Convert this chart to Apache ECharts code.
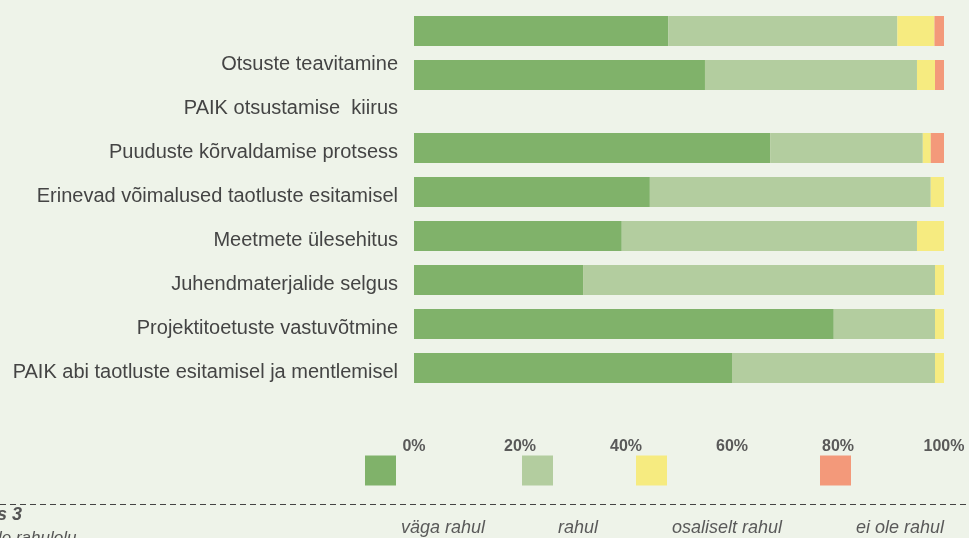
<!DOCTYPE html>
<html>
<head>
<meta charset="utf-8">
<script src="https://cdn.jsdelivr.net/npm/echarts@6.0.0/dist/echarts.min.js"></script>
<style>
  html, body { margin: 0; padding: 0; background: #EEF3E9; }
</style>
</head>
<body>

<div id="main" style="width: 969px;height:538px;"></div>
<script type="text/javascript">
    // kategooriad (sildid), ülevalt alla
    var categories = [
        'Otsuste teavitamine',
        'PAIK otsustamise  kiirus',
        'Puuduste kõrvaldamise protsess',
        'Erinevad võimalused taotluste esitamisel',
        'Meetmete ülesehitus',
        'Juhendmaterjalide selgus',
        'Projektitoetuste vastuvõtmine',
        'PAIK abi taotluste esitamisel ja mentlemisel'
    ];

    // hinnangud (%), esimesed 2 rida = ülemised ribad, mille sildid on pildilt ära lõigatud
    var vagaRahul = [48.0, 54.9, null, null, 67.2, 44.5, 39.2, 31.9, 79.2, 60.0];
    var rahul = [43.2, 40.0, null, null, 28.8, 53.0, 55.7, 66.4, 19.1, 38.3];
    var osaliseltRahul = [7.0, 3.4, null, null, 1.5, 2.5, 5.1, 1.7, 1.7, 1.7];
    var eiOleRahul = [1.8, 1.7, null, null, 2.5, 0, 0, 0, 0, 0];

    var levels = ['väga rahul', 'rahul', 'osaliselt rahul', 'ei ole rahul'];
    var colors = ['#80B26A', '#B3CD9F', '#F6EB80', '#F3997A'];
    var values = [vagaRahul, rahul, osaliseltRahul, eiOleRahul];
    var legendLeft = [365, 522, 636, 820];

    var font = "'Liberation Sans', Arial, sans-serif";
    var myChart = echarts.init(document.getElementById('main'));

    var series = [];
    values.forEach(function (arr, i) {
        // põhiosa
        series.push({
            name: levels[i], type: 'bar', stack: 'main',
            xAxisIndex: 0, yAxisIndex: 0,
            barWidth: 30, color: colors[i],
            data: arr.slice(2)
        });
        // kaks ülemist riba
        series.push({
            name: levels[i], type: 'bar', stack: 'top',
            xAxisIndex: 1, yAxisIndex: 1,
            barWidth: 30, color: colors[i],
            data: arr.slice(0, 2)
        });
    });

    // legendi tekst käib ruudu alla: kaks tühja rida ees
    // (legendi kast algab teksti ülaservast, seepärast top = 455 - 70)
    var legends = levels.map(function (name, i) {
        return {
            data: [name],
            left: legendLeft[i],
            top: 385,
            padding: 0,
            itemWidth: 31,
            itemHeight: 30,
            icon: 'rect',
            selectedMode: false,
            formatter: function (n) { return '\n\n' + n; },
            textStyle: {
                fontFamily: font, fontStyle: 'italic', fontSize: 18,
                color: '#595959', lineHeight: 57
            }
        };
    });

    var option = {
        backgroundColor: '#EEF3E9',
        animation: false,
        grid: [
            { left: 414, right: 25, top: 38, height: 352 },
            { left: 414, right: 25, top: 9, height: 88 }
        ],
        legend: legends,
        xAxis: [
            {
                type: 'value', gridIndex: 0, min: 0, max: 100, interval: 20,
                axisLine: { show: false }, axisTick: { show: false },
                splitLine: { show: false },
                axisLabel: {
                    formatter: '{value}%', margin: 49,
                    fontFamily: font, fontWeight: 'bold', fontSize: 16, color: '#595959'
                }
            },
            {
                type: 'value', gridIndex: 1, min: 0, max: 100, show: false,
                splitLine: { show: false }
            }
        ],
        yAxis: [
            {
                type: 'category', gridIndex: 0, inverse: true, data: categories,
                axisLine: { show: false }, axisTick: { show: false },
                axisLabel: {
                    margin: 16,
                    formatter: function (v) { return '{a|' + v + '}'; },
                    rich: {
                        a: {
                            fontFamily: font, fontSize: 20, color: '#444',
                            padding: [8, 0, 0, 0]
                        }
                    }
                }
            },
            {
                type: 'category', gridIndex: 1, inverse: true, data: ['', ''],
                show: false
            }
        ],
        graphic: [
            {
                type: 'line',
                shape: { x1: 0, y1: 504.5, x2: 969, y2: 504.5 },
                style: { stroke: '#444', lineWidth: 1, lineDash: [6, 4] }
            },
            {
                type: 'text', left: -3, top: 506,
                style: { text: 's 3', font: "italic bold 18px " + font, fill: '#555' }
            },
            {
                type: 'text', left: -2, top: 530,
                style: { text: 'le rahulolu', font: "italic 17px " + font, fill: '#555' }
            }
        ],
        series: series
    };

    myChart.setOption(option);
</script>
</body>
</html>
